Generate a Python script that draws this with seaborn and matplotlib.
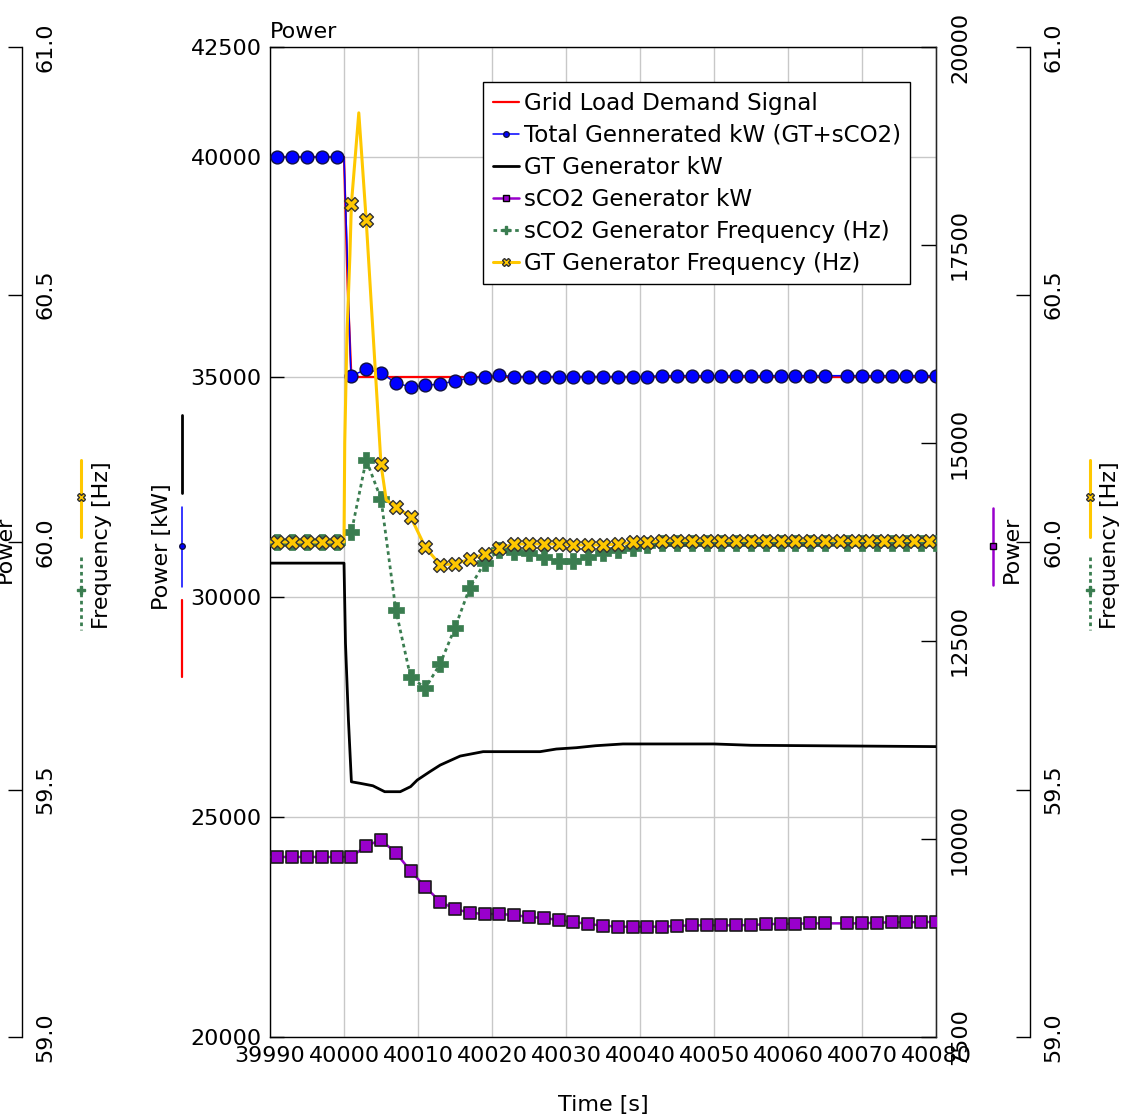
import matplotlib
matplotlib.use("Agg")
import matplotlib.pyplot as plt
from matplotlib.lines import Line2D
import seaborn as sns
import pandas as pd

# ---------------- data ----------------
time_ticks = [39990, 40000, 40010, 40020, 40030, 40040, 40050, 40060, 40070, 40080]
power_ticks = [20000, 25000, 30000, 35000, 40000, 42500]
sco2_ticks = [7500, 10000, 12500, 15000, 17500, 20000]
freq_ticks = [59.0, 59.5, 60.0, 60.5, 61.0]

# sample (marker) times of the power series and of the sCO2 frequency
t_pw = [39991, 39993, 39995, 39997, 39999, 40001, 40003, 40005, 40007, 40009,
        40011, 40013, 40015, 40017, 40019, 40021, 40023, 40025, 40027, 40029,
        40031, 40033, 40035, 40037, 40039, 40041, 40043, 40045, 40047, 40049,
        40051, 40053, 40055, 40057, 40059, 40061, 40063, 40065, 40068, 40070,
        40072, 40074, 40076, 40078, 40080]
# sample (marker) times of the GT frequency
t_fq = [39991, 39993, 39995, 39997, 39999, 40001, 40003, 40005, 40007, 40009,
        40011, 40013, 40015, 40017, 40019, 40021, 40023, 40025, 40027, 40029,
        40031, 40033, 40035, 40037, 40039, 40041, 40043, 40045, 40047, 40049,
        40051, 40053, 40055, 40057, 40059, 40061, 40063, 40065, 40067, 40069,
        40071, 40073, 40075, 40077, 40079]

total_kw = [40000, 40000, 40000, 40000, 40000,
            35020, 35180, 35090, 34870, 34770, 34810, 34840, 34910, 34980, 35000,
            35040, 35010, 35010, 35010, 35010, 35010, 35010, 35010, 35010, 35010,
            35010, 35030, 35030, 35030, 35030, 35030, 35030, 35030, 35030, 35030,
            35030, 35030, 35030, 35030, 35030, 35030, 35030, 35030, 35030, 35030]
sco2_kw = [9773, 9773, 9773, 9773, 9773,
           9773, 9915, 9987, 9827, 9596, 9394, 9208, 9116, 9069, 9053,
           9053, 9040, 9015, 9003, 8977, 8952, 8927, 8906, 8893, 8893,
           8893, 8893, 8902, 8910, 8910, 8910, 8910, 8914, 8923, 8930,
           8930, 8935, 8935, 8935, 8935, 8944, 8948, 8948, 8952, 8952]
sco2_hz = [60.0, 60.0, 60.0, 60.0, 60.0,
           60.020, 60.166, 60.087, 59.863, 59.727, 59.705, 59.754, 59.827, 59.908, 59.958,
           59.984, 59.980, 59.977, 59.970, 59.962, 59.962, 59.970, 59.977, 59.983, 59.988,
           59.993, 59.997, 59.997, 59.997, 59.997, 59.997, 59.997, 59.997, 59.997, 59.997,
           59.997, 59.997, 59.997, 59.997, 59.997, 59.997, 59.997, 59.997, 59.997, 59.997]
gt_hz = [60.0, 60.0, 60.0, 60.0, 60.0,
         60.683, 60.650, 60.157, 60.071, 60.051, 59.989, 59.954, 59.956, 59.965, 59.976,
         59.987, 59.996, 59.996, 59.996, 59.996, 59.994, 59.994, 59.994, 59.996, 59.999,
         59.999, 60.003, 60.003, 60.003, 60.003, 60.003, 60.003, 60.003, 60.003, 60.003,
         60.003, 60.003, 60.003, 60.003, 60.003, 60.003, 60.003, 60.003, 60.003, 60.003]

# additional line vertices between samples (no markers)
total_extra_t = [39990, 40000, 40000.4, 40000.9]
total_extra_v = [40000, 40000, 38000, 35200]
sco2_kw_extra_t = [39990]
sco2_kw_extra_v = [9773]
sco2_hz_extra_t = [39990]
sco2_hz_extra_v = [60.0]
gt_hz_extra_t = [39990, 40000, 40000.1, 40000.4, 40000.8, 40002, 40005.7, 40080]
gt_hz_extra_v = [60.0, 60.0, 60.2, 60.42, 60.58, 60.867, 60.085, 60.003]

demand_t = [39990, 40000, 40000.5, 40001, 40080]
demand_kw = [40000, 40000, 37000, 35000, 35000]

gt_kw_t = [39990, 40000, 40000.2, 40000.6, 40001, 40002.2, 40003.9, 40005.5, 40007.6,
           40009, 40009.9, 40011.6, 40013, 40015.7, 40018.8, 40026.5, 40028.7,
           40031.4, 40034, 40037.7, 40050, 40055, 40080]
gt_kw = [30770, 30770, 28950, 27200, 25800, 25765, 25710, 25575, 25575,
         25690, 25840, 26030, 26180, 26385, 26485, 26485, 26545,
         26575, 26620, 26660, 26660, 26630, 26600]

legend_labels = ["Grid Load Demand Signal", "Total Gennerated kW (GT+sCO2)",
                 "GT Generator kW", "sCO2 Generator kW",
                 "sCO2 Generator Frequency (Hz)", "GT Generator Frequency (Hz)"]

# ---------------- style ----------------
sns.set_style("white")
plt.rcParams["font.family"] = ["DejaVu Sans"]
plt.rcParams["text.color"] = "black"
plt.rcParams["axes.labelcolor"] = "black"
plt.rcParams["xtick.color"] = "black"
plt.rcParams["ytick.color"] = "black"
FS = 16
FS_LEG = 16.6
RED, BLUE, BLACK = "#FF0000", "#0000FF", "#000000"
PURPLE, GREEN, YELLOW = "#9900CC", "#3A7D50", "#FFC800"
GREEN_DASH = (0, (1.3, 1.3))


def merged(t1, v1, t2, v2):
    d = pd.DataFrame({"t": list(t1) + list(t2), "v": list(v1) + list(v2)})
    return d.sort_values("t").reset_index(drop=True)


W, H = 1128, 1119
fx = lambda px: px / W
fy = lambda py: 1 - py / H

fig = plt.figure(figsize=(W / 100, H / 100), dpi=100)
fig.patch.set_facecolor("white")
ax = fig.add_axes([fx(270), 1 - 1037 / H, 666 / W, 990 / H])
ax.set_facecolor("white")

# main power axis
sns.lineplot(x=demand_t, y=demand_kw, ax=ax, color=RED, linewidth=1.6,
             estimator=None, sort=False, legend=False)
d = merged(t_pw, total_kw, total_extra_t, total_extra_v)
sns.lineplot(x=d["t"].values, y=d["v"].values, ax=ax, color=BLUE, linewidth=1.1,
             estimator=None, sort=False, legend=False)
sns.lineplot(x=gt_kw_t, y=gt_kw, ax=ax, color=BLACK, linewidth=2.0,
             estimator=None, sort=False, legend=False)
sns.scatterplot(x=t_pw, y=total_kw, ax=ax, marker="o", s=85, color=BLUE,
                edgecolor="#101040", linewidth=1.0, legend=False, zorder=4)

# sCO2 power axis (right)
ax2 = ax.twinx()
d = merged(t_pw, sco2_kw, sco2_kw_extra_t, sco2_kw_extra_v)
sns.lineplot(x=d["t"].values, y=d["v"].values, ax=ax2, color=PURPLE, linewidth=1.8,
             estimator=None, sort=False, legend=False)
sns.scatterplot(x=t_pw, y=sco2_kw, ax=ax2, marker="s", s=80, color=PURPLE,
                edgecolor="#1a1a1a", linewidth=1.2, legend=False, zorder=4)

# frequency axis (far left)
ax3 = ax.twinx()
d = merged(t_pw, sco2_hz, sco2_hz_extra_t, sco2_hz_extra_v)
sns.lineplot(x=d["t"].values, y=d["v"].values, ax=ax3, color=GREEN, linewidth=2.0,
             linestyle=GREEN_DASH, estimator=None, sort=False, legend=False)
sns.scatterplot(x=t_pw, y=sco2_hz, ax=ax3, marker="P", s=120, color=GREEN,
                edgecolor=GREEN, linewidth=0.5, legend=False, zorder=4)

# frequency axis (far right)
ax4 = ax.twinx()
d = merged(t_fq, gt_hz, gt_hz_extra_t, gt_hz_extra_v)
sns.lineplot(x=d["t"].values, y=d["v"].values, ax=ax4, color=YELLOW, linewidth=2.2,
             estimator=None, sort=False, legend=False)
sns.scatterplot(x=t_fq, y=gt_hz, ax=ax4, marker="X", s=100, color=YELLOW,
                edgecolor="#333333", linewidth=1.0, legend=False, zorder=4)

# ---------------- axes formatting ----------------
ax.set_xlim(39990, 40080)
ax.set_ylim(20000, 42500)
ax.set_xticks(time_ticks, labels=[str(t) for t in time_ticks])
ax.set_yticks(power_ticks, labels=[str(p) for p in power_ticks])
ax.tick_params(axis="y", direction="in", length=10, width=1, pad=6, labelsize=FS, colors="black")
ax.tick_params(axis="x", length=0, pad=6.5, labelsize=FS, colors="black")
ax.grid(True, color="#C8C8C8", linewidth=1)
ax.set_axisbelow(True)
ax.set_xlabel("")
ax.set_ylabel("")
for s in ax.spines.values():
    s.set_color("black")
    s.set_linewidth(1.0)

ax2.set_ylim(7500, 20000)
ax2.set_yticks(sco2_ticks, labels=[str(v) for v in sco2_ticks], rotation=90, va="center")
ax2.tick_params(axis="y", direction="in", length=11, width=1, pad=10, labelsize=FS, colors="black")
ax2.set_ylabel("")

for a, pos in ((ax3, (22 - 270) / 666), (ax4, (1030 - 270) / 666)):
    a.set_ylim(59.0, 61.0)
    a.spines["right"].set_position(("axes", pos))
    a.spines["right"].set_color("black")
    a.spines["right"].set_linewidth(1.0)
    for s in ("left", "top", "bottom"):
        a.spines[s].set_visible(False)
    a.set_yticks(freq_ticks, labels=[f"{f:.1f}" for f in freq_ticks], rotation=90, va="center")
    a.tick_params(axis="y", direction="in", length=10, width=1, pad=9.5, labelsize=FS, colors="black")
    a.set_ylabel("")
ax2.spines["left"].set_visible(False)
ax2.spines["top"].set_visible(False)
ax2.spines["bottom"].set_visible(False)

# ---------------- legend ----------------
handles = [
    Line2D([], [], color=RED, lw=1.6),
    Line2D([], [], color=BLUE, lw=1.1, marker="o", ms=4, mfc=BLUE, mec="#101040"),
    Line2D([], [], color=BLACK, lw=2.0),
    Line2D([], [], color=PURPLE, lw=1.8, marker="s", ms=4.5, mfc=PURPLE, mec="black"),
    Line2D([], [], color=GREEN, lw=2.0, ls=GREEN_DASH, marker="P", ms=6, mfc=GREEN, mec=GREEN),
    Line2D([], [], color=YELLOW, lw=2.2, marker="X", ms=6, mfc=YELLOW, mec="#333333"),
]
leg = ax4.legend(handles, legend_labels, loc="upper left",
                 bbox_to_anchor=((483 - 270) / 666, (1037 - 82) / 990),
                 borderaxespad=0, frameon=True, fancybox=False, edgecolor="black",
                 framealpha=1, fontsize=FS_LEG, handlelength=1.15, handletextpad=0.2,
                 labelspacing=0.39, borderpad=0.42)
leg.get_frame().set_linewidth(1.0)
leg.set_zorder(10)
for txt in leg.get_texts():
    txt.set_color("black")

# ---------------- texts and axis-label keys ----------------
fig.text(fx(270), fy(32), "Power", ha="left", va="center", fontsize=FS)
fig.text(fx(603), fy(1105), "Time [s]", ha="center", va="center", fontsize=FS)
fig.text(fx(5), fy(549), "Power", rotation=90, ha="center", va="center", fontsize=FS)
fig.text(fx(102), fy(545), "Frequency [Hz]", rotation=90, ha="center", va="center", fontsize=FS)
fig.text(fx(162), fy(547), "Power [kW]", rotation=90, ha="center", va="center", fontsize=FS)
fig.text(fx(1012), fy(549), "Power", rotation=90, ha="center", va="center", fontsize=FS)
fig.text(fx(1110), fy(545), "Frequency [Hz]", rotation=90, ha="center", va="center", fontsize=FS)


def vkey(x, y0, y1, color, lw, ls="-", marker=None, my=None, ms=4.5, mfc=None, mec=None):
    fig.add_artist(Line2D([fx(x), fx(x)], [fy(y0), fy(y1)], transform=fig.transFigure,
                          color=color, lw=lw, ls=ls))
    if marker is not None:
        fig.add_artist(Line2D([fx(x)], [fy(my)], transform=fig.transFigure, ls="none",
                              marker=marker, ms=ms, mfc=mfc, mec=mec))


for xk in (81, 1090):
    vkey(xk, 460, 537, YELLOW, 2.2, marker="X", my=497, ms=6, mfc=YELLOW, mec="#333333")
    vkey(xk, 557, 630, GREEN, 2.0, ls=GREEN_DASH, marker="P", my=590, ms=6, mfc=GREEN, mec=GREEN)
vkey(182, 415, 493, BLACK, 2.0)
vkey(182, 507, 587, BLUE, 1.1, marker="o", my=546, ms=4, mfc=BLUE, mec="#101040")
vkey(182, 600, 677, RED, 1.6)
vkey(993, 508, 585, PURPLE, 1.8, marker="s", my=546, ms=4.5, mfc=PURPLE, mec="black")

fig.savefig("out.png", dpi=100)
